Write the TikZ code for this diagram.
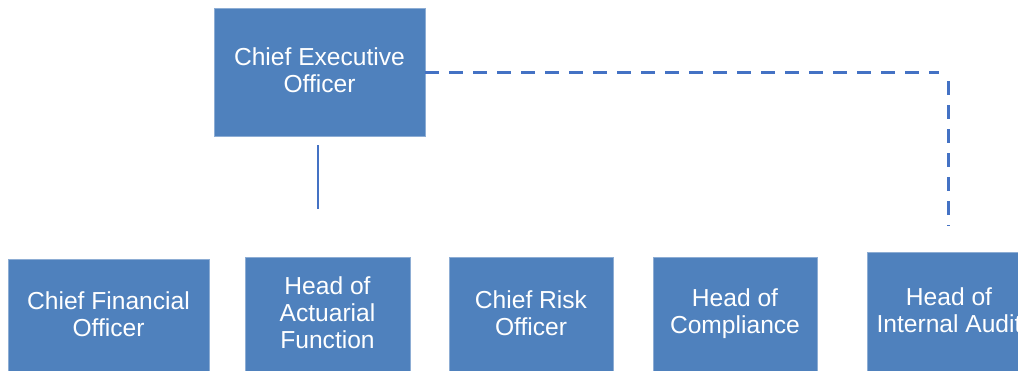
\documentclass[tikz,border=0pt]{standalone}
\usepackage{fontspec}
\setmainfont{Liberation Sans}
\definecolor{boxblue}{HTML}{4F81BD}
\definecolor{lineblue}{HTML}{4472C4}
\newcommand\mydepth[1]{\rule[-#1]{0pt}{#1}}
\begin{document}
\begin{tikzpicture}[x=1pt,y=-1pt,
  orgbox/.style={fill=boxblue, draw=boxblue!65!white, line width=0.7pt, text=white,
    align=center, inner sep=0pt, font=\fontsize{24.6}{27}\selectfont},
  solidline/.style={draw=lineblue, line width=2.2pt},
  dashline/.style={draw=lineblue, line width=3pt, dash pattern=on 14pt off 10pt}]
\useasboundingbox (0,0) rectangle (1018,370);
\clip (0,0) rectangle (1018,370);
\node[orgbox, minimum width=211pt, minimum height=128pt] (ceo) at (319.5,72) {Chief Executive\\Officer\mydepth{4pt}};
\node[orgbox, minimum width=201pt, minimum height=116pt] (cfo) at (108.5,317) {Chief Financial\\Officer\mydepth{6pt}};
\node[orgbox, minimum width=165pt, minimum height=118pt] (act) at (327.5,316) {Head of\\Actuarial\\Function\mydepth{6pt}};
\node[orgbox, minimum width=164pt, minimum height=118pt] (cro) at (531,316) {Chief Risk\\Officer\mydepth{5pt}};
\node[orgbox, minimum width=164pt, minimum height=118pt] (comp) at (735,316) {Head of\\Compliance\mydepth{9pt}};
\node[orgbox, minimum width=164pt, minimum height=124pt] (ia) at (949,314) {Head of\\Internal Audit\mydepth{8pt}};
\coordinate (v1) at (318,145);
\coordinate (v2) at (318,209);
\draw[solidline] (v1) -- (v2);
\coordinate (dh) at (939,72);
\draw[dashline] (ceo.east) -- (dh);
\coordinate (dv1) at (948,81);
\coordinate (dv2) at (948,226);
\draw[dashline] (dv1) -- (dv2);
\end{tikzpicture}
\end{document}
